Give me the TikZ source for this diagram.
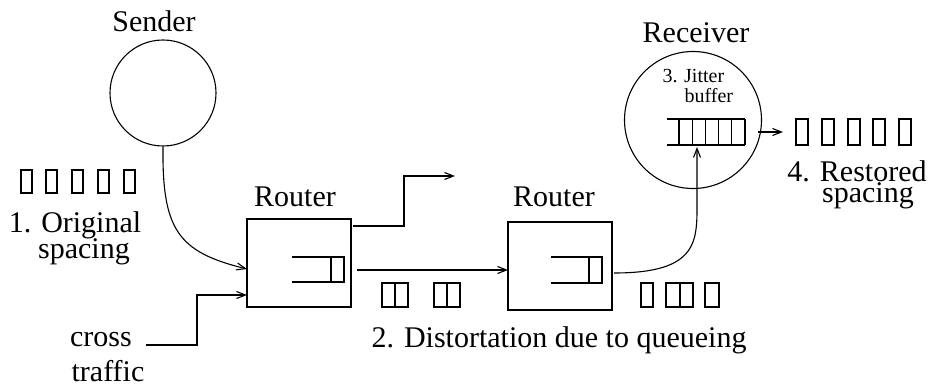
\documentclass[tikz,border=0pt]{standalone}
\usepackage{fontspec}
\setmainfont{Liberation Serif}
\usetikzlibrary{arrows.meta}
\begin{document}
\begin{tikzpicture}[x=1pt,y=-1pt,line width=1.1pt,
  lbl/.style={font=\fontsize{30}{34}\selectfont, inner sep=0, anchor=base, text height=20pt, text depth=4pt},
  smalllbl/.style={font=\fontsize{20}{22}\selectfont, inner sep=0, anchor=base west, text height=14pt, text depth=3pt},
  routerbox/.style={draw, rectangle, minimum width=104pt, minimum height=88pt, inner sep=0},
  hostcircle/.style={draw, circle, inner sep=0},
  arr/.style={-{Straight Barb[length=9pt,width=7pt]}}]
\useasboundingbox (0,0) rectangle (932,385);

% hosts and routers
\node[hostcircle, minimum size=106pt] (sender) at (163,93) {};
\node[hostcircle, minimum size=137pt] (receiver) at (693,120) {};
\node[routerbox] (router1) at (299,263) {};
\node[routerbox] (router2) at (560,266) {};

% labels
\node[lbl] (lsender) at (154,32) {Sender};
\node[lbl] (lreceiver) at (696,43) {Receiver};
\node[lbl] (lrouter1) at (295,207) {Router};
\node[lbl] (lrouter2) at (554,207) {Router};
\node[lbl] (lorig1) at (75,233) {1. Original};
\node[lbl] (lorig2) at (84,258) {spacing};
\node[lbl] (lcross) at (101,346) {cross};
\node[lbl] (ltraffic) at (108,381) {traffic};
\node[lbl] (ldist) at (559,347) {2. Distortation due to queueing};
\node[lbl] (lrest1) at (857,182) {4. Restored};
\node[lbl] (lrest2) at (868,203) {spacing};
\node[smalllbl] (ljit1) at (662,83) {3. Jitter};
\node[smalllbl] (ljit2) at (684,103) {buffer};

% router queues
\draw (292,257) -- (344,257) (292,282) -- (344,282);
\draw (331,257) rectangle (344,282);
\draw (551,257) -- (602,257) (551,283) -- (602,283);
\draw (589,257) rectangle (602,283);

% jitter buffer
\draw (667,119) -- (745,119) (667,145) -- (745,145);
\foreach \x in {679,692.2,705.4,718.6,731.8,745} \draw (\x,119) -- (\x,145);

% packets
\foreach \x in {21,46,72,98,124} \draw (\x,170) rectangle ++(11,23);
\foreach \x in {382,434} {\draw (\x,283) rectangle ++(26,24); \draw (\x+13,283) -- (\x+13,307);}
\draw (641,283) rectangle (653,307);
\draw (666,283) rectangle (693,307); \draw (680,283) -- (680,307);
\draw (705,283) rectangle (719,307);
\foreach \x in {796,822,848,873,899} \draw (\x,119) rectangle ++(12,26);

% connector end points
\coordinate (r1a) at (247,269);
\coordinate (r1b) at (247,295);
\coordinate (ct) at (146,345);
\coordinate (r1out) at (353,226);
\coordinate (drop) at (455,176);
\coordinate (r1q) at (357,270);
\coordinate (r2a) at (508,270);
\coordinate (r2out) at (614,273);
\coordinate (bufbot) at (697,147);
\coordinate (bufout) at (758,132);
\coordinate (restin) at (783,132);

% connectors
\draw[arr] (sender.south) .. controls (162,230) and (178,252) .. (r1a);
\draw[arr] (ct) -- ++(51,0) |- (r1b);
\draw[arr] (r1out) -- ++(51,0) |- (drop);
\draw[arr] (r1q) -- (r2a);
\draw[arr] (r2out) .. controls (700,273) and (697,240) .. (697,200) -- (bufbot);
\draw[arr] (bufout) -- (restin);
\end{tikzpicture}
\end{document}
